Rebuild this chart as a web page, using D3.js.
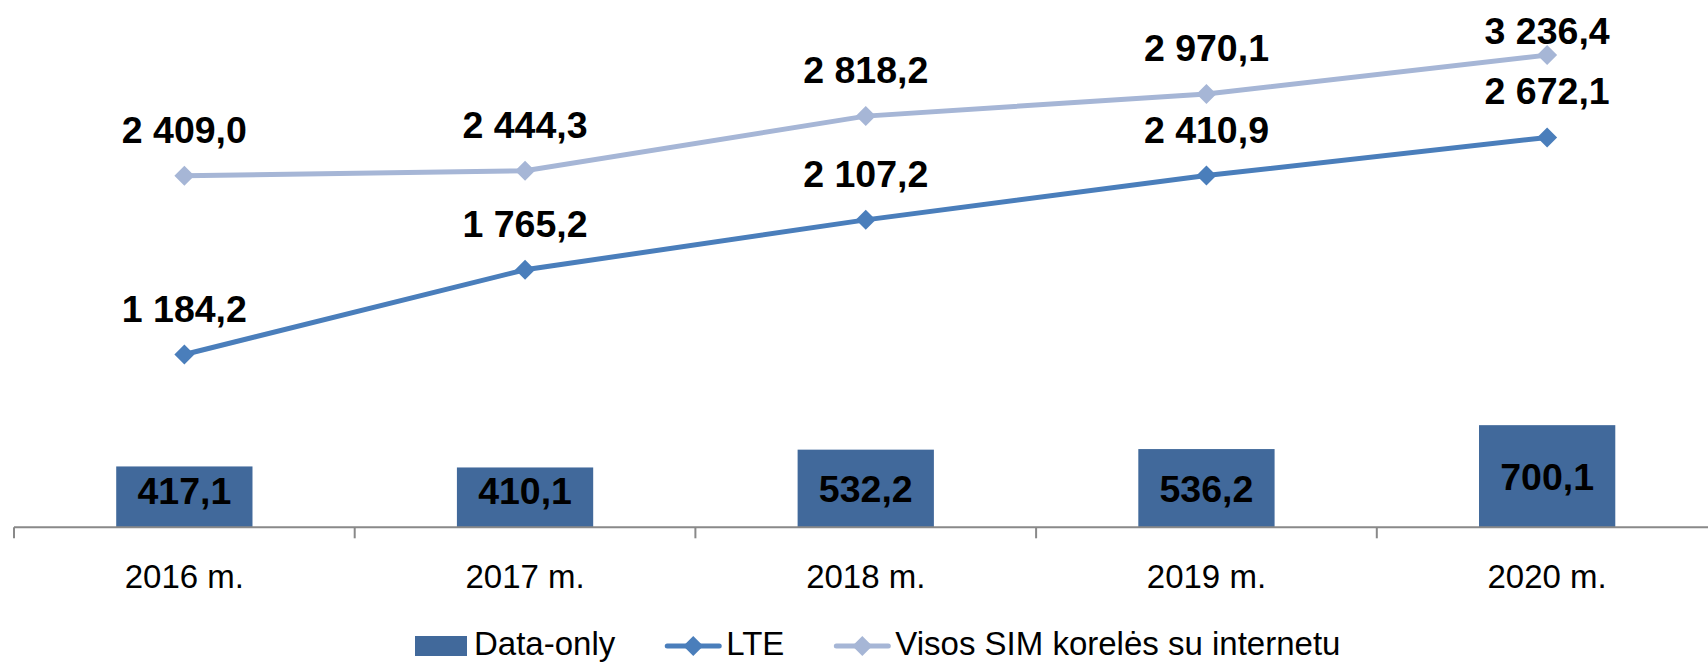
<!DOCTYPE html>
<html>
<head>
<meta charset="utf-8">
<script src="https://cdn.jsdelivr.net/npm/d3@7"></script>
<style>
  html, body { margin: 0; padding: 0; background: #fff; }
  svg { display: block; font-family: "Liberation Sans", Arial, sans-serif; }
</style>
</head>
<body>
<div id="main"></div>
<script>
// chart data
const years = ["2016 m.", "2017 m.", "2018 m.", "2019 m.", "2020 m."];
const dataOnly = [417.1, 410.1, 532.2, 536.2, 700.1];
const lte = [1184.2, 1765.2, 2107.2, 2410.9, 2672.1];
const allSim = [2409.0, 2444.3, 2818.2, 2970.1, 3236.4];
const seriesNames = ["Data-only", "LTE", "Visos SIM korelės su internetu"];

const width = 1708, height = 663;
const axisY = 527.3, plotLeft = 14, step = 340.7;
const colors = {bar: "#41699b", lte: "#4a7ebb", all: "#a6b6d6", axis: "#898989"};

// lithuanian number format: space grouping, comma decimal
const fmt = d3.formatLocale({decimal: ",", thousands: "\u00a0", grouping: [3], currency: ["", ""]}).format(",.1f");

const x = d3.scaleBand()
    .domain(years)
    .range([plotLeft, plotLeft + step * years.length]);
const y = d3.scaleLinear()
    .domain([0, 3500])
    .range([axisY, axisY - 0.1459 * 3500]);
const cx = (d) => x(d) + x.bandwidth() / 2;

const svg = d3.select("#main").append("svg")
    .attr("width", width)
    .attr("height", height);

// bars
const barW = x.bandwidth() * 0.4;
svg.append("g")
    .selectAll("rect")
    .data(years)
    .enter()
    .append("rect")
    .attr("x", (d) => cx(d) - barW / 2)
    .attr("y", (d, i) => y(dataOnly[i]))
    .attr("width", barW)
    .attr("height", (d, i) => axisY - y(dataOnly[i]))
    .attr("fill", colors.bar);

// axis line + ticks at category boundaries
const axis = svg.append("g").attr("stroke", colors.axis).attr("stroke-width", 2);
axis.append("line")
    .attr("x1", plotLeft).attr("x2", width)
    .attr("y1", axisY).attr("y2", axisY);
axis.selectAll("line.tick")
    .data(d3.range(years.length + 1))
    .enter()
    .append("line")
    .attr("class", "tick")
    .attr("x1", (i) => plotLeft + i * x.step())
    .attr("x2", (i) => plotLeft + i * x.step())
    .attr("y1", axisY).attr("y2", axisY + 11);

svg.append("g")
    .selectAll("text")
    .data(years)
    .enter()
    .append("text")
    .attr("x", cx)
    .attr("y", 588)
    .attr("text-anchor", "middle")
    .attr("font-size", 33)
    .text((d) => d);

// bar labels, centred but kept above the axis
svg.append("g")
    .selectAll("text")
    .data(years)
    .enter()
    .append("text")
    .attr("x", cx)
    .attr("y", (d, i) => Math.min((y(dataOnly[i]) + axisY) / 2 + 14, axisY - 23))
    .attr("text-anchor", "middle")
    .attr("font-size", 37.5)
    .attr("font-weight", "bold")
    .text((d, i) => fmt(dataOnly[i]));

// lines
const line = d3.line()
    .x((d, i) => cx(years[i]))
    .y((d) => y(d));
const diamond = d3.symbol().type(d3.symbolSquare).size(200);

[[allSim, colors.all], [lte, colors.lte]].forEach(([values, color]) => {
    const g = svg.append("g");
    g.append("path")
        .attr("d", line(values))
        .attr("fill", "none")
        .attr("stroke", color)
        .attr("stroke-width", 5);
    g.selectAll("path.marker")
        .data(values)
        .enter()
        .append("path")
        .attr("class", "marker")
        .attr("d", diamond)
        .attr("transform", (d, i) => `translate(${cx(years[i])}, ${y(d)}) rotate(45)`)
        .attr("fill", color);
    // labels above the points, pushed down when they would leave the plot top
    g.selectAll("text")
        .data(values)
        .enter()
        .append("text")
        .attr("x", (d, i) => cx(years[i]))
        .attr("y", (d) => Math.max(y(d) - 33, y.range()[1] + 27))
        .attr("text-anchor", "middle")
        .attr("font-size", 37.5)
        .attr("font-weight", "bold")
        .text((d) => fmt(d));
});

// legend
const legend = svg.append("g");
let lx = 415;
seriesNames.forEach((name, i) => {
    const item = legend.append("g").attr("transform", `translate(${lx}, 0)`);
    if (i === 0) {
        item.append("rect")
            .attr("x", 0).attr("y", 636)
            .attr("width", 52).attr("height", 20)
            .attr("fill", colors.bar);
    } else {
        const color = i === 1 ? colors.lte : colors.all;
        item.append("line")
            .attr("x1", 2).attr("x2", 54)
            .attr("y1", 646).attr("y2", 646)
            .attr("stroke", color)
            .attr("stroke-width", 5)
            .attr("stroke-linecap", "round");
        item.append("path")
            .attr("d", diamond)
            .attr("transform", "translate(28, 646) rotate(45)")
            .attr("fill", color);
    }
    const t = item.append("text")
        .attr("x", i === 0 ? 59 : 61)
        .attr("y", 655)
        .attr("font-size", 33)
        .text(name);
    lx += (i === 0 ? 59 : 61) + t.node().getComputedTextLength() + 50;
});
</script>
</body>
</html>
